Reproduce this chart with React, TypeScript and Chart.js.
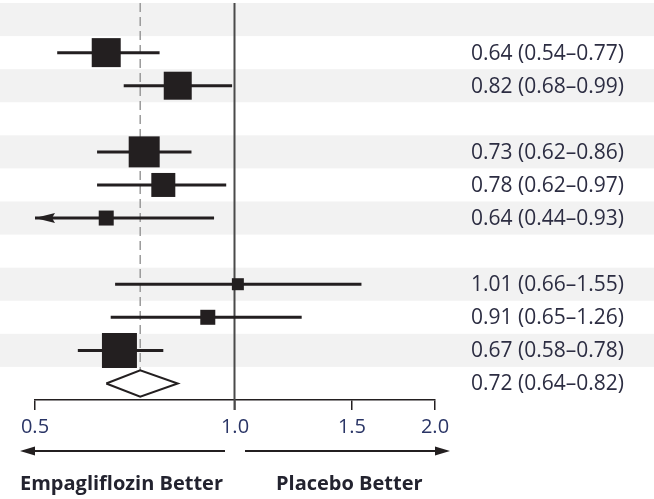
import React, { useEffect, useRef } from "react";
import { Chart, registerables } from "chart.js";

Chart.register(...registerables);

// ---- data ----
const rowIndex = [0, 1, 2, 3, 4, 5, 6, 7, 8, 9, 10, 11];
const hazardRatio = [null, 0.64, 0.82, null, 0.73, 0.78, 0.64, null, 1.01, 0.91, 0.67, 0.72];
const ciLower = [null, 0.54, 0.68, null, 0.62, 0.62, 0.44, null, 0.66, 0.65, 0.58, 0.64];
const ciUpper = [null, 0.77, 0.99, null, 0.86, 0.97, 0.93, null, 1.55, 1.26, 0.78, 0.82];
const overallRow = 11;
const xTicks = [0.5, 1.0, 1.5, 2.0];
const leftLabel = "Empagliflozin Better";
const rightLabel = "Placebo Better";

// ---- style ----
const BOX_SIDE = [0, 29, 28, 0, 31, 24, 15, 0, 12, 15, 35, 0];
const INK = "#231f20";
const TEXT = "#2c2d42";
const TICK_TEXT = "#2a3566";
const BAND = "#f2f2f2";
const FONT = "'Open Sans', 'DejaVu Sans', sans-serif";
const DIAMOND_HALF = 0.4;

const fmt = (v: number) => v.toFixed(2);

export default function App() {
  const ref = useRef<HTMLCanvasElement | null>(null);

  useEffect(() => {
    if (!ref.current) return;

    const studyRows = rowIndex.filter((i) => hazardRatio[i] !== null && i !== overallRow);

    const ciDatasets = studyRows.map((i) => ({
      type: "line" as const,
      data: [
        { x: ciLower[i] as number, y: i },
        { x: ciUpper[i] as number, y: i },
      ],
      borderColor: INK,
      borderWidth: 3,
      pointRadius: 0,
      fill: false,
      order: 3,
    }));

    const boxes = {
      type: "scatter" as const,
      data: studyRows.map((i) => ({ x: hazardRatio[i] as number, y: i })),
      pointStyle: "rect" as const,
      pointRadius: studyRows.map((i) => BOX_SIDE[i] / Math.SQRT2),
      pointHoverRadius: studyRows.map((i) => BOX_SIDE[i] / Math.SQRT2),
      backgroundColor: INK,
      borderColor: INK,
      borderWidth: 0,
      order: 0,
    };

    const o = overallRow;
    const diamond = {
      type: "line" as const,
      data: [
        { x: ciLower[o] as number, y: o },
        { x: hazardRatio[o] as number, y: o - DIAMOND_HALF },
        { x: ciUpper[o] as number, y: o },
        { x: hazardRatio[o] as number, y: o + DIAMOND_HALF },
        { x: ciLower[o] as number, y: o },
      ],
      borderColor: INK,
      borderWidth: 2,
      backgroundColor: "#ffffff",
      fill: "shape" as any,
      pointRadius: 0,
      tension: 0,
      order: 1,
    };

    const bandsPlugin = {
      id: "bands",
      beforeDraw(chart: any) {
        const { ctx, width, height, scales } = chart;
        ctx.save();
        ctx.fillStyle = "#ffffff";
        ctx.fillRect(0, 0, width, height);
        ctx.fillStyle = BAND;
        rowIndex.forEach((i) => {
          if (i % 2 !== 0) return;
          const a = scales.y.getPixelForValue(i - 0.5);
          const b = scales.y.getPixelForValue(i + 0.5);
          ctx.fillRect(0, Math.min(a, b), width, Math.abs(b - a));
        });
        ctx.restore();
      },
    };

    const refLinesPlugin = {
      id: "refLines",
      beforeDatasetsDraw(chart: any) {
        const { ctx, chartArea, scales } = chart;
        ctx.save();
        // dashed line at overall estimate
        const xd = scales.x.getPixelForValue(hazardRatio[overallRow]);
        const yd = scales.y.getPixelForValue(overallRow - DIAMOND_HALF);
        ctx.strokeStyle = "#9a9a9a";
        ctx.lineWidth = 1.5;
        ctx.setLineDash([9, 5]);
        ctx.beginPath();
        ctx.moveTo(xd, chartArea.top);
        ctx.lineTo(xd, yd);
        ctx.stroke();
        ctx.setLineDash([]);
        // solid line at 1.0
        const x1 = Math.round(scales.x.getPixelForValue(1)) - 0.5;
        ctx.strokeStyle = "#4a4a4a";
        ctx.lineWidth = 2;
        ctx.beginPath();
        ctx.moveTo(x1, chartArea.top);
        ctx.lineTo(x1, chartArea.bottom + 10);
        ctx.stroke();
        ctx.restore();
      },
    };

    const annotPlugin = {
      id: "annot",
      afterDraw(chart: any) {
        const { ctx, chartArea, scales } = chart;
        const xs = scales.x;
        const ys = scales.y;
        ctx.save();
        // clipped CI arrows
        studyRows.forEach((i) => {
          const lo = ciLower[i] as number;
          if (lo < xs.min) {
            const y = ys.getPixelForValue(i);
            const x = chartArea.left;
            ctx.fillStyle = INK;
            ctx.beginPath();
            ctx.moveTo(x, y);
            ctx.lineTo(x + 20, y - 5);
            ctx.lineTo(x + 17, y);
            ctx.lineTo(x + 20, y + 5);
            ctx.closePath();
            ctx.fill();
          }
        });
        // right-side labels
        ctx.fillStyle = TEXT;
        ctx.font = `21px ${FONT}`;
        ctx.textAlign = "left";
        ctx.textBaseline = "middle";
        rowIndex.forEach((i) => {
          const hr = hazardRatio[i];
          if (hr === null) return;
          const txt = `${fmt(hr)} (${fmt(ciLower[i] as number)}–${fmt(ciUpper[i] as number)})`;
          ctx.fillText(txt, chartArea.right + 36, ys.getPixelForValue(i) + 1);
        });
        // direction arrows
        const x1 = xs.getPixelForValue(1);
        const ya = chartArea.bottom + 51;
        ctx.strokeStyle = INK;
        ctx.fillStyle = INK;
        ctx.lineWidth = 2;
        const lx0 = chartArea.left - 15;
        const rx1 = chartArea.right + 15;
        ctx.beginPath();
        ctx.moveTo(lx0 + 12, ya);
        ctx.lineTo(x1 - 10, ya);
        ctx.moveTo(x1 + 10, ya);
        ctx.lineTo(rx1 - 12, ya);
        ctx.stroke();
        ctx.beginPath();
        ctx.moveTo(lx0, ya);
        ctx.lineTo(lx0 + 15, ya - 4.5);
        ctx.lineTo(lx0 + 15, ya + 4.5);
        ctx.closePath();
        ctx.fill();
        ctx.beginPath();
        ctx.moveTo(rx1, ya);
        ctx.lineTo(rx1 - 15, ya - 4.5);
        ctx.lineTo(rx1 - 15, ya + 4.5);
        ctx.closePath();
        ctx.fill();
        // direction labels
        ctx.fillStyle = "#23232f";
        ctx.font = `bold 20px ${FONT}`;
        ctx.textBaseline = "alphabetic";
        ctx.textAlign = "left";
        ctx.fillText(leftLabel, lx0, chartArea.bottom + 90);
        ctx.fillText(rightLabel, x1 + 41, chartArea.bottom + 90);
        ctx.restore();
      },
    };

    const chart = new Chart(ref.current, {
      type: "scatter",
      data: { datasets: [boxes as any, diamond as any, ...(ciDatasets as any[])] },
      options: {
        animation: false,
        responsive: false,
        devicePixelRatio: 1,
        layout: { autoPadding: false, padding: { left: 35, right: 219, top: 3, bottom: 59 } },
        plugins: { legend: { display: false }, tooltip: { enabled: false } },
        events: [],
        scales: {
          x: {
            type: "logarithmic",
            min: 0.5,
            max: 2,
            afterBuildTicks: (s: any) => {
              s.ticks = xTicks.map((v) => ({ value: v }));
            },
            afterFit: (s: any) => {
              s.height = 40;
            },
            ticks: {
              callback: (v: any) => Number(v).toFixed(1),
              font: { family: FONT, size: 20 },
              color: TICK_TEXT,
              padding: 5,
              autoSkip: false,
              maxRotation: 0,
            },
            grid: { drawOnChartArea: false, drawTicks: true, tickLength: 10, color: INK, lineWidth: 1.5 },
            border: { display: true, color: INK, width: 1.5 },
          },
          y: {
            type: "linear",
            min: -0.5,
            max: 11.5,
            reverse: true,
            display: false,
          },
        },
      },
      plugins: [bandsPlugin, refLinesPlugin, annotPlugin],
    });

    return () => chart.destroy();
  }, []);

  return (
    <div style={{ position: "fixed", left: 0, top: 0, width: 654, height: 499, background: "#fff" }}>
      <canvas ref={ref} width={654} height={499} style={{ display: "block", width: 654, height: 499 }} />
    </div>
  );
}
